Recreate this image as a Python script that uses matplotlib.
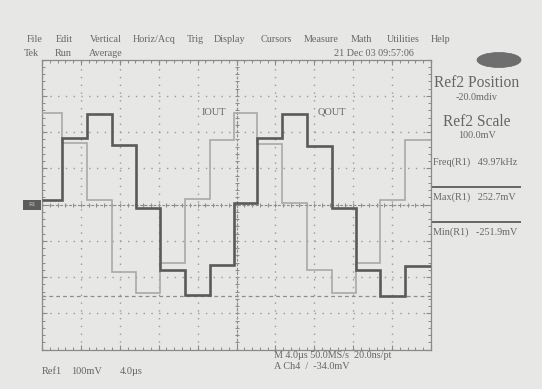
import numpy as np
import matplotlib
matplotlib.use("Agg")
import matplotlib.pyplot as plt
from matplotlib.patches import Ellipse, Rectangle

# ---------------- data ----------------
# segment boundaries in microseconds (4 us/div, 10 div)
t_edges = [0, 2.06, 4.63, 7.20, 9.67, 12.13, 14.70, 17.27, 19.74,
           22.10, 24.68, 27.25, 29.82, 32.29, 34.76, 37.33, 40]
# level of each segment in mV (100 mV/div)
dark_levels = [12, 183, 250, 165, -10, -180, -250, -167,
               5, 183, 250, 162, -10, -180, -252, -170]
light_levels = [252, 170, 12, -186, -244, -161, 15, 178,
                252, 168, 4, -180, -244, -161, 12, 178]
trace_labels = ["IOUT", "QOUT"]
min_cursor_mv = -251.9

menu_items = ["File", "Edit", "Vertical", "Horiz/Acq", "Trig", "Display",
              "Cursors", "Measure", "Math", "Utilities", "Help"]
menu_x = [27, 56, 90, 133, 187, 214, 261, 304, 351, 387, 431]
sub_items = ["Tek", "Run", "Average"]
sub_x = [24, 55, 89]

# ---------------- styling ----------------
W, H = 542, 389
bg = "#e7e7e5"
txt = "#666666"
gridc = "#9a9a9a"
framec = "#8a8a8a"
dark_c = "#5a5a5a"
light_c = "#a9a9a9"
serif = ["Liberation Serif", "DejaVu Serif"]

def fx(x):
    return x / W

def fy(y):
    return 1 - y / H

fig = plt.figure(figsize=(W / 100, H / 100), dpi=100, facecolor=bg)
ax = fig.add_axes([fx(42), fy(349.5), 389 / W, 290 / H])
ax.set_facecolor(bg)
ax.set_xlim(0, 40)
ax.set_ylim(-400, 400)

# graticule
ax.set_xticks(np.arange(0, 40.01, 4))
ax.set_yticks(np.arange(-400, 400.1, 100))
ax.set_xticks(np.arange(0, 40.01, 0.8), minor=True)
ax.set_yticks(np.arange(-400, 400.1, 20), minor=True)
ax.tick_params(which="both", direction="in", top=True, right=True,
               labelbottom=False, labelleft=False, color=framec)
ax.tick_params(which="major", length=3.5, width=0.8)
ax.tick_params(which="minor", length=2.2, width=0.7)
for s in ax.spines.values():
    s.set_color(framec)
    s.set_linewidth(0.9)
ax.grid(which="major", color=gridc, linestyle=(0, (1, 4.6)), linewidth=1.0)

# centre cross with fine ticks
ax.axhline(0, color=framec, lw=0.8, linestyle=(0, (2.5, 1.5)), zorder=1)
ax.axvline(20, color=framec, lw=0.8, linestyle=(0, (2.5, 1.5)), zorder=1)
mx = np.arange(0, 40.01, 0.8)
my = np.arange(-400, 400.1, 20)
ax.plot(mx, np.zeros_like(mx), linestyle="none", marker="|", ms=3.5,
        color=framec, mew=0.7, zorder=1)
ax.plot(np.full_like(my, 20.0), my, linestyle="none", marker="_", ms=3.5,
        color=framec, mew=0.7, zorder=1)

# min cursor (dashed)
ax.axhline(min_cursor_mv, color="#8c8c8c", lw=0.9,
           linestyle=(0, (3, 2.5)), zorder=1)

# traces
ax.stairs(light_levels, t_edges, color=light_c, lw=1.2, baseline=None, zorder=3)
ax.stairs(dark_levels, t_edges, color=dark_c, lw=1.9, baseline=None, zorder=4)

ax.text(16.4, 255, trace_labels[0], fontsize=7.5, color=txt, family=serif,
        ha="left", va="center")
ax.text(28.3, 255, trace_labels[1], fontsize=7.5, color=txt, family=serif,
        ha="left", va="center")

# ---------------- header ----------------
for s, x in zip(menu_items, menu_x):
    fig.text(fx(x), fy(40), s, fontsize=7.3, color=txt, family=serif,
             ha="left", va="center")
for s, x in zip(sub_items, sub_x):
    fig.text(fx(x), fy(53), s, fontsize=7.3, color=txt, family=serif,
             ha="left", va="center")
fig.text(fx(334), fy(54), "21 Dec 03 09:57:06", fontsize=7.3, color=txt,
         family=serif, ha="left", va="center")

# logo oval
fig.patches.append(Ellipse((fx(499), fy(60)), 44 / W, 15 / H,
                           transform=fig.transFigure, facecolor="#6e6e6e",
                           edgecolor="#666666", lw=0.5))

# ref marker on left
fig.patches.append(Rectangle((fx(23), fy(209.5)), 18 / W, 10 / H,
                             transform=fig.transFigure, facecolor="#5c5c5c",
                             edgecolor="none"))
fig.text(fx(32), fy(204.5), "R1", fontsize=4.5, color="#cfcfcf",
         family=serif, ha="center", va="center")

# ---------------- right panel ----------------
fig.text(fx(477), fy(83), "Ref2 Position", fontsize=11.2, color=txt,
         family=serif, ha="center", va="center")
fig.text(fx(477), fy(97), "-20.0mdiv", fontsize=7.3, color=txt,
         family=serif, ha="center", va="center")
fig.text(fx(477), fy(122), "Ref2 Scale", fontsize=11.2, color=txt,
         family=serif, ha="center", va="center")
fig.text(fx(477), fy(135), "100.0mV", fontsize=7.3, color=txt,
         family=serif, ha="center", va="center")
fig.text(fx(433), fy(162), "Freq(R1)   49.97kHz", fontsize=7.3, color=txt,
         family=serif, ha="left", va="center")
fig.text(fx(433), fy(197), "Max(R1)   252.7mV", fontsize=7.3, color=txt,
         family=serif, ha="left", va="center")
fig.text(fx(433), fy(232), "Min(R1)   -251.9mV", fontsize=7.3, color=txt,
         family=serif, ha="left", va="center")
for yy in (187, 222):
    fig.add_artist(plt.Line2D([fx(433), fx(520)], [fy(yy), fy(yy)],
                              color="#666666", lw=1.4,
                              transform=fig.transFigure))

# ---------------- footer ----------------
fig.text(fx(42), fy(371), "Ref1", fontsize=7.5, color=txt, family=serif,
         ha="left", va="center")
fig.text(fx(71), fy(371), "100mV", fontsize=7.5, color=txt, family=serif,
         ha="left", va="center")
fig.text(fx(120), fy(371), "4.0\u00b5s", fontsize=7.5, color=txt, family=serif,
         ha="left", va="center")
fig.text(fx(274), fy(356), "M 4.0\u00b5s 50.0MS/s  20.0ns/pt", fontsize=7.3,
         color=txt, family=serif, ha="left", va="center")
fig.text(fx(274), fy(366.5), "A Ch4  /  -34.0mV", fontsize=7.3, color=txt,
         family=serif, ha="left", va="center")

fig.savefig("out.png", dpi=100, facecolor=bg)
